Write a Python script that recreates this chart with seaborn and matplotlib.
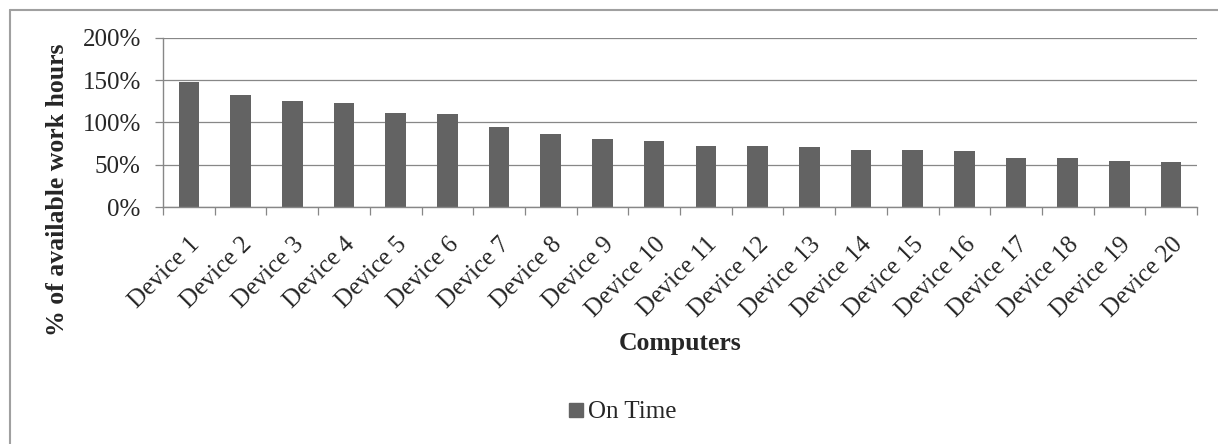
import pandas as pd
import seaborn as sns
import matplotlib.pyplot as plt
from matplotlib.ticker import FuncFormatter, FixedLocator
from matplotlib.lines import Line2D

# values (percent of available work hours)
devices = ['Device %d' % i for i in range(1, 21)]
on_time = [148, 132, 126, 123, 111.5, 110.5, 95, 86.5, 81, 78,
           72.7, 72.3, 70.7, 68, 67.2, 66, 58.5, 58.5, 54.2, 53.4]
series_name = 'On Time'
y_ticks = [0, 50, 100, 150, 200]

df = pd.DataFrame({'Computers': devices, 'pct': on_time, 'series': series_name})

sns.set_style('white')
plt.rcParams['font.family'] = ['Liberation Serif', 'DejaVu Serif']

bar_col = '#636363'
grid_col = '#878787'

fig = plt.figure(figsize=(12.18, 4.44), dpi=100)
ax = fig.add_axes([163/1218, 1-207/444, 1034/1218, 169/444])

sns.barplot(data=df, x='Computers', y='pct', hue='series', palette=[bar_col],
            width=0.4, edgecolor='none', ax=ax, legend=False)

ax.set_xlim(-0.5, len(devices) - 0.5)
ax.set_ylim(0, 200)
ax.yaxis.set_major_locator(FixedLocator(y_ticks))
ax.yaxis.set_major_formatter(FuncFormatter(lambda v, p: '%d%%' % v))
ax.grid(axis='y', color=grid_col, linewidth=0.9)
ax.set_axisbelow(True)

for s in ['top', 'right']:
    ax.spines[s].set_visible(False)
for s in ['left', 'bottom']:
    ax.spines[s].set_color(grid_col)
    ax.spines[s].set_linewidth(1.0)

ax.tick_params(axis='y', direction='out', length=6, width=0.9, color=grid_col,
               labelsize=18, pad=10, left=True)
# category boundaries get the tick marks
ax.set_xticks([i - 0.5 for i in range(len(devices) + 1)], minor=True)
ax.tick_params(axis='x', which='minor', direction='out', length=6, width=0.9,
               color=grid_col, bottom=True)
ax.tick_params(axis='x', which='major', length=0, pad=19, labelsize=18)
for lab in ax.get_xticklabels():
    lab.set_rotation(45)
    lab.set_ha('right')
    lab.set_va('top')
    lab.set_rotation_mode('anchor')

ax.set_xlabel('Computers', fontsize=18.5, fontweight='bold')
ax.xaxis.set_label_coords(0.5, (207-332)/169)
ax.set_ylabel('% of available work hours', fontsize=18.5, fontweight='bold')
ax.yaxis.set_label_coords((69-163)/1034, 0.1)

handle = Line2D([], [], marker='s', linestyle='none', color=bar_col, markersize=10)
fig.legend([handle], [series_name], loc='center', frameon=False, fontsize=18,
           bbox_to_anchor=(621/1218, 1-412/444), handletextpad=0.1,
           handlelength=0.8)

# chart outer border (cut off at right and bottom, as in the reference)
fig.add_artist(Line2D([10/1218, 10/1218], [0, 1-10/444], color='#a0a0a0',
                      linewidth=1.5, transform=fig.transFigure))
fig.add_artist(Line2D([10/1218, 1], [1-10/444, 1-10/444], color='#a0a0a0',
                      linewidth=1.5, transform=fig.transFigure))

fig.savefig('out.png', dpi=100)
